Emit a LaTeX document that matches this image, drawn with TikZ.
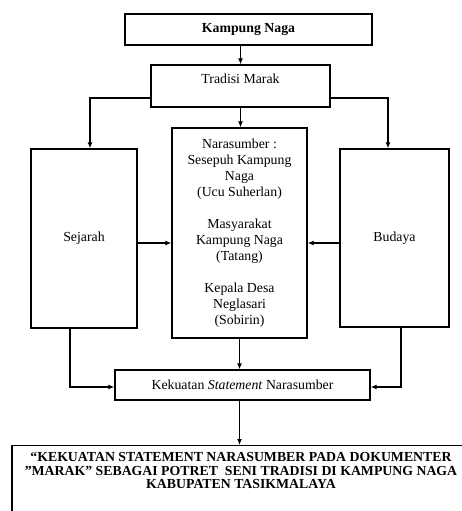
\documentclass[tikz,border=0pt]{standalone}
\usepackage{fontspec}
\setmainfont{Liberation Serif}
\usetikzlibrary{arrows.meta}
\begin{document}
\begin{tikzpicture}[
        x=1pt, y=1pt,
        node distance=50pt,
        every node/.style={rectangle, draw=black, line width=1.3pt, align=center, inner sep=0pt, font=\fontsize{13.8}{16}\selectfont},
        arr/.style={draw, line width=1.2pt, -{Latex[length=6pt,width=5pt]}}
    ]
        \useasboundingbox (0,0) rectangle (462,-511);
        \clip (0,0) rectangle (462,-511);

        \node (kampung) at (248.5,-29.5) [minimum width=247pt, minimum height=31pt] {\textbf{Kampung Naga}};
        \node (tradisi) [below of=kampung, xshift=-8pt, yshift=-6.5pt, minimum width=179pt, text height=19pt, text depth=23pt] {Tradisi Marak};

        \node (narasumber) [below of=tradisi, xshift=-1pt, yshift=-97pt, minimum width=135pt, minimum height=210pt] {Narasumber :\\Sesepuh Kampung\\Naga\\(Ucu Suherlan)\\[16pt]Masyarakat\\Kampung Naga\\(Tatang)\\[16pt]Kepala Desa\\Neglasari\\(Sobirin)};
        \node (sejarah) [left of=narasumber, xshift=-105.5pt, yshift=-5.5pt, minimum width=106pt, minimum height=179pt] {Sejarah};
        \node (budaya) [right of=narasumber, xshift=105pt, yshift=-5pt, minimum width=109pt, minimum height=178pt] {Budaya};

        \node (kekuatan) [below of=narasumber, xshift=3pt, yshift=-102pt, minimum width=255pt, minimum height=30pt] {Kekuatan \textit{Statement} Narasumber};
        \node (judul) [below of=kekuatan, anchor=north, xshift=-1.5pt, yshift=-10pt, minimum width=458pt, inner ysep=7pt, text depth=70pt, font=\fontsize{13.8}{13.5}\selectfont\bfseries] {“KEKUATAN STATEMENT NARASUMBER PADA DOKUMENTER\\”MARAK” SEBAGAI POTRET\ \ SENI TRADISI DI KAMPUNG NAGA\\KABUPATEN TASIKMALAYA};

        \draw[arr] (kampung.south -| tradisi.north) -- (tradisi.north);
        \draw[arr] (tradisi.south) -- (tradisi.south |- narasumber.north);
        \draw[arr] ([yshift=-12pt]tradisi.west) -| ([xshift=6pt]sejarah.north);
        \draw[arr] ([yshift=-12pt]tradisi.east) -| ([xshift=-6.5pt]budaya.north);
        \draw[arr] ([yshift=-4.5pt]sejarah.east) -- ([yshift=-4.5pt]sejarah.east -| narasumber.west);
        \draw[arr] ([yshift=-5pt]budaya.west) -- ([yshift=-5pt]budaya.west -| narasumber.east);
        \draw[arr] (narasumber.south) -- (narasumber.south |- kekuatan.north);
        \draw[arr] ([xshift=-14pt]sejarah.south) |- ([yshift=-2pt]kekuatan.west);
        \draw[arr] ([xshift=6.5pt]budaya.south) |- ([yshift=-2pt]kekuatan.east);
        \draw[arr] (narasumber.south |- kekuatan.south) -- (narasumber.south |- judul.north);
    \end{tikzpicture}
\end{document}
